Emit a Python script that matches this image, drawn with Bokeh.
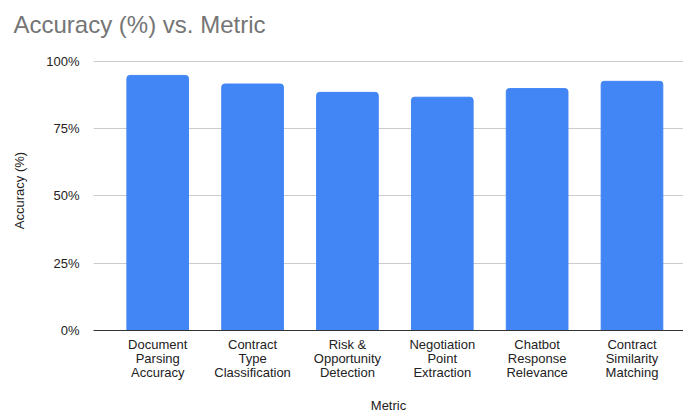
from bokeh.plotting import figure
from bokeh.models import FixedTicker, Range1d, Title
from bokeh.embed import file_html
from bokeh.resources import INLINE

title_text = "Accuracy (%) vs. Metric"
categories = [
    "Document\nParsing\nAccuracy",
    "Contract\nType\nClassification",
    "Risk &\nOpportunity\nDetection",
    "Negotiation\nPoint\nExtraction",
    "Chatbot\nResponse\nRelevance",
    "Contract\nSimilarity\nMatching",
]
accuracy = [94.8, 91.6, 88.5, 86.7, 89.9, 92.6]
y_ticks = [0, 25, 50, 75, 100]
y_tick_labels = ["0%", "25%", "50%", "75%", "100%"]

FONT = "Liberation Sans"
xs = list(range(len(categories)))

p = figure(width=683, height=416, output_backend="svg", toolbar_location=None,
           x_range=Range1d(-0.677, 5.543), y_range=Range1d(0, 104.06),
           min_border_left=93, min_border_right=0, min_border_top=50, min_border_bottom=84)
p.title = Title(text=title_text, text_font=FONT, text_font_size="24px",
                text_font_style="normal", text_color="#757575", offset=-80, standoff=21,
                vertical_align="top")
p.outline_line_color = None
p.background_fill_color = "white"
p.border_fill_color = "white"

p.vbar(x=xs, top=accuracy, width=0.65, bottom=0, color="#4285F4",
       border_radius=(3, 3, 0, 0))

p.xaxis.ticker = FixedTicker(ticks=xs)
p.xaxis.major_label_overrides = {i: c for i, c in enumerate(categories)}
p.xaxis.major_tick_line_color = None
p.xaxis.minor_tick_line_color = None
p.xaxis.axis_line_color = "#333333"
p.xaxis.axis_line_width = 1
p.xaxis.major_label_text_font = FONT
p.xaxis.major_label_text_font_size = "13px"
p.xaxis.major_label_text_line_height = 0.95
p.xaxis.major_label_text_color = "#222222"
p.xaxis.major_label_standoff = 0
p.xaxis.axis_label = "Metric"
p.xaxis.axis_label_text_font = FONT
p.xaxis.axis_label_text_font_size = "13px"
p.xaxis.axis_label_text_font_style = "normal"
p.xaxis.axis_label_text_color = "#222222"
p.xaxis.axis_label_standoff = 15

p.yaxis.ticker = FixedTicker(ticks=y_ticks)
p.yaxis.major_label_overrides = {t: l for t, l in zip(y_ticks, y_tick_labels)}
p.yaxis.major_tick_line_color = None
p.yaxis.minor_tick_line_color = None
p.yaxis.axis_line_color = None
p.yaxis.major_label_text_font = FONT
p.yaxis.major_label_text_font_size = "13px"
p.yaxis.major_label_text_color = "#222222"
p.yaxis.major_label_standoff = 8
p.yaxis.axis_label = "Accuracy (%)"
p.yaxis.axis_label_text_font = FONT
p.yaxis.axis_label_text_font_size = "13px"
p.yaxis.axis_label_text_font_style = "normal"
p.yaxis.axis_label_text_color = "#222222"
p.yaxis.axis_label_standoff = 16

p.xgrid.grid_line_color = None
p.ygrid.grid_line_color = "#cccccc"
p.ygrid.ticker = FixedTicker(ticks=[25, 50, 75, 100])

open("out.html", "w").write(file_html(p, INLINE))
